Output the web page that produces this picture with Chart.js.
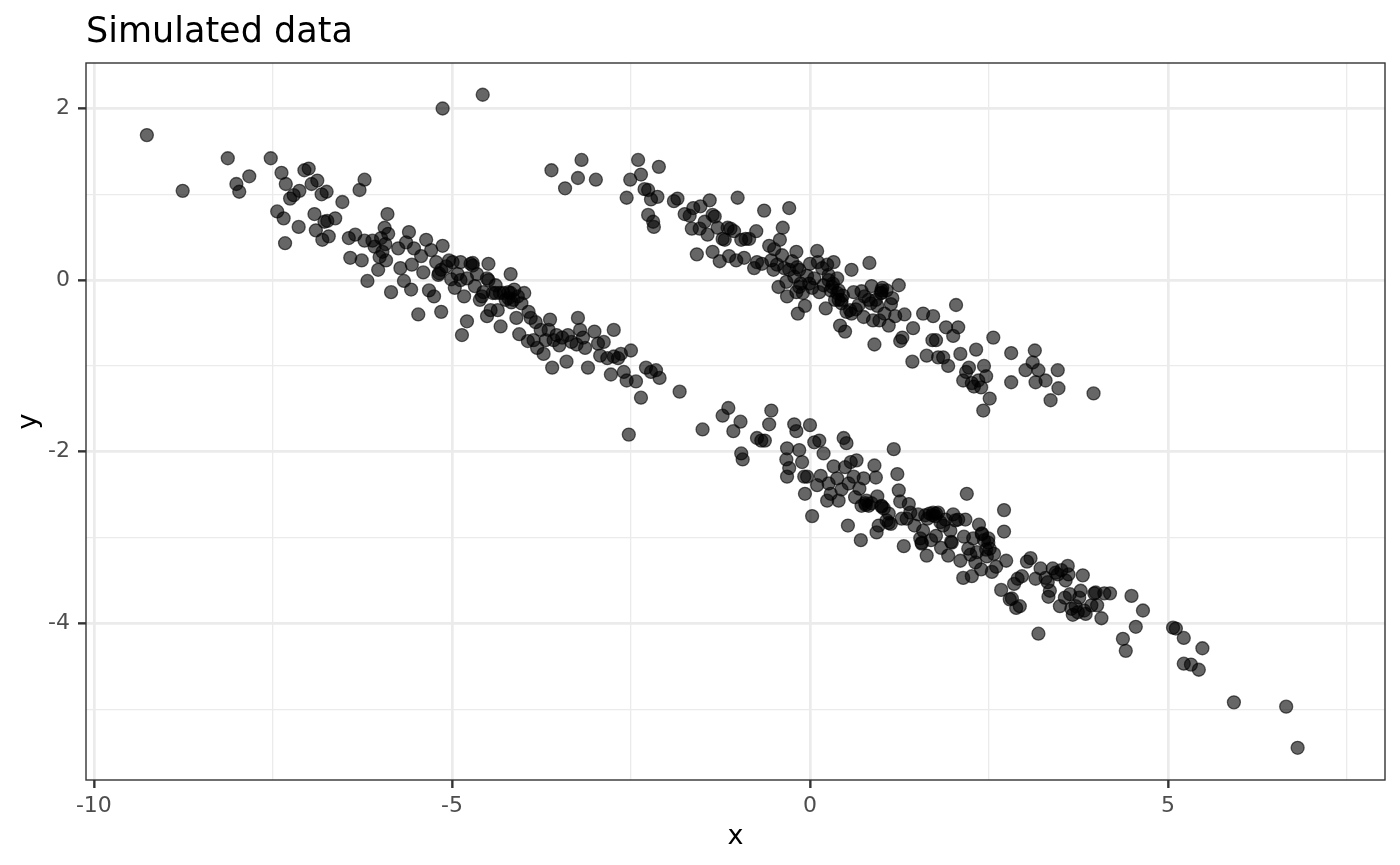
<!DOCTYPE html>
<html lang="en">
<head>
<meta charset="UTF-8">
<title>Simulated data</title>
<script src="https://cdn.jsdelivr.net/npm/chart.js@4"></script>
<style>
  html, body { margin: 0; padding: 0; background: #fff; }
  #wrap { width: 1400px; height: 865px; }
</style>
</head>
<body>
<div id="wrap"><canvas id="simChart"></canvas></div>
<script>
// tick positions: majors carry labels, minors are only grid lines
const xMajor = [-10, -5, 0, 5];
const xMinor = [-7.5, -2.5, 2.5, 7.5];
const yMajor = [2, 0, -2, -4];
const yMinor = [1, -1, -3, -5];

// points, grouped by the three bands
const upperLeft = [
  [-9.26,1.69],[-8.76,1.04],[-8.13,1.42],[-8.01,1.12],[-7.97,1.03],[-7.83,1.21],[-7.53,1.42],[-7.44,0.80],
  [-7.38,1.25],[-7.35,0.72],[-7.33,0.43],[-7.32,1.12],[-7.26,0.95],[-7.21,0.99],[-7.14,0.62],[-7.13,1.04],
  [-7.06,1.28],[-7.00,1.30],[-6.96,1.12],[-6.92,0.77],[-6.90,0.58],[-6.88,1.16],[-6.82,1.00],[-6.81,0.47],
  [-6.78,0.68],[-6.75,1.03],[-6.74,0.69],[-6.72,0.51],[-6.63,0.72],[-6.53,0.91],[-6.44,0.49],[-6.42,0.26],
  [-6.35,0.53],[-6.29,1.05],[-6.26,0.23],[-6.22,1.17],[-6.22,0.46],[-6.18,-0.01],[-6.11,0.46],[-6.08,0.39],
  [-6.03,0.12],[-6.01,0.27],[-5.99,0.49],[-5.97,0.33],[-5.94,0.61],[-5.92,0.23],[-5.90,0.77],[-5.85,-0.14],
  [-5.93,0.42],[-5.89,0.54],[-5.75,0.37],[-5.72,0.14],[-5.67,-0.01],[-5.64,0.44],[-5.60,0.56],[-5.57,-0.11],
  [-5.56,0.18],[-5.53,0.37],[-5.47,-0.40],[-5.43,0.28],[-5.40,0.09],[-5.36,0.47],[-5.32,-0.12],[-5.29,0.35],
  [-5.25,-0.19],[-5.22,0.21],[-5.19,0.06],[-5.15,-0.37],[-5.13,0.40],[-5.15,0.12],[-5.08,0.16],[-5.04,0.23],
  [-5.01,0.01],[-4.99,0.21],[-4.96,-0.09],[-4.92,0.07],[-4.88,0.21],[-4.86,-0.64],[-4.83,-0.19],[-4.79,-0.48],
  [-4.79,0.02],[-4.74,0.19],[-4.71,0.20],[-4.68,-0.07],[-4.65,0.07],[-4.61,-0.23],[-4.58,-0.19],[-4.51,0.02],
  [-4.49,0.00],[-4.49,0.19],[-4.51,-0.42],[-4.46,-0.35],[-4.43,-0.15],[-4.39,-0.06],[-4.36,-0.35],[-4.33,-0.15],
  [-4.32,-0.54],[-4.28,-0.15],[-4.25,-0.23],[-4.21,-0.14],[-4.18,0.07],[-4.17,-0.26],[-4.14,-0.23],[-4.13,-0.11],
  [-4.10,-0.44],[-4.08,-0.19],[-4.06,-0.63],[-4.03,-0.27],[-3.99,-0.15],[-3.94,-0.71],[-3.93,-0.37],[-3.90,-0.44],
  [-3.86,-0.70],[-3.83,-0.49],[-3.81,-0.79],[-3.76,-0.58],[-3.72,-0.86],[-3.69,-0.70],[-3.65,-0.58],[-3.63,-0.46],
  [-3.60,-1.02],[-3.58,-0.70],[-3.54,-0.64],[-3.50,-0.76],[-3.46,-0.67],[-3.40,-0.95],[-3.38,-0.64],[-3.33,-0.72],
  [-3.26,-0.75],[-3.24,-0.44],[-3.21,-0.58],[-3.17,-0.67],[-3.14,-0.79],[-3.10,-1.02],[-3.01,-0.60],[-2.96,-0.74],
  [-2.93,-0.88],[-2.88,-0.72],[-2.83,-0.91],[-2.78,-1.10],[-2.74,-0.58],[-2.74,-0.89],[-2.68,-0.91],[-2.64,-0.86],
  [-2.60,-1.07],[-2.56,-1.17],[-2.53,-1.80],[-2.50,-0.82],[-2.43,-1.18],[-2.36,-1.37],[-2.29,-1.02],[-2.22,-1.07],
  [-2.15,-1.05],[-2.10,-1.14],[-1.82,-1.30],
  [-4.56,-0.14],[-4.39,-0.15],[-4.18,-0.15],[-4.21,-0.21],[-5.18,0.08],[-4.88,0.00],[-4.71,0.17]
];

const outliers = [[-5.13,2.00],[-4.57,2.16]];

const upperRight = [
  [-3.61,1.28],[-3.42,1.07],[-3.24,1.19],[-3.19,1.40],[-2.99,1.17],[-2.56,0.96],[-2.51,1.17],[-2.40,1.40],
  [-2.36,1.23],[-2.31,1.06],[-2.26,1.05],[-2.26,0.76],[-2.22,0.94],[-2.19,0.68],[-2.18,0.62],[-2.11,1.32],
  [-2.13,0.97],[-1.90,0.92],[-1.85,0.95],[-1.75,0.77],[-1.68,0.75],[-1.65,0.60],[-1.63,0.84],[-1.58,0.30],
  [-1.54,0.60],[-1.53,0.86],[-1.47,0.68],[-1.43,0.53],[-1.40,0.93],[-1.36,0.76],[-1.36,0.33],[-1.33,0.74],
  [-1.29,0.61],[-1.26,0.22],[-1.22,0.48],[-1.19,0.47],[-1.15,0.61],[-1.13,0.28],[-1.11,0.60],[-1.06,0.57],
  [-1.03,0.23],[-1.01,0.96],[-0.96,0.47],[-0.92,0.26],[-0.90,0.48],[-0.85,0.48],[-0.78,0.14],[-0.75,0.57],
  [-0.74,0.21],[-0.67,0.19],[-0.64,0.81],[-0.57,0.40],[-0.54,0.23],[-0.51,0.12],[-0.50,0.36],[-0.46,0.18],
  [-0.44,-0.08],[-0.42,0.47],[-0.39,0.29],[-0.38,0.61],[-0.36,0.14],[-0.33,-0.02],[-0.32,-0.19],[-0.29,0.84],
  [-0.29,0.12],[-0.25,0.22],[-0.22,0.04],[-0.19,0.33],[-0.19,-0.14],[-0.17,-0.39],[-0.15,0.12],[-0.13,-0.04],
  [-0.10,-0.15],[-0.07,-0.30],[-0.04,0.05],[0.00,0.19],[0.03,-0.09],[0.06,0.02],[0.10,0.34],[0.11,0.21],
  [0.13,-0.14],[0.17,0.14],[0.19,-0.06],[0.22,-0.33],[0.24,0.18],[0.26,0.06],[0.29,-0.12],[0.32,-0.04],
  [0.33,0.21],[0.35,-0.23],[0.38,0.02],[0.40,-0.12],[0.42,-0.53],[0.44,-0.23],[0.46,-0.18],[0.49,-0.60],
  [0.51,-0.37],[0.56,-0.35],[0.58,0.12],[0.61,-0.14],[0.64,-0.34],[0.68,-0.29],[0.72,-0.13],[0.75,-0.43],
  [0.76,-0.19],[0.82,-0.23],[0.83,0.20],[0.86,-0.07],[0.88,-0.47],[0.90,-0.75],[0.92,-0.23],[0.94,-0.30],
  [0.97,-0.47],[0.99,-0.15],[1.00,-0.12],[1.01,-0.09],[1.04,-0.39],[1.07,-0.12],[1.10,-0.53],[1.13,-0.28],
  [1.15,-0.21],[1.19,-0.42],[1.24,-0.06],[1.26,-0.71],[1.29,-0.67],[1.32,-0.40],[1.44,-0.56],[1.43,-0.95],
  [1.58,-0.39],[1.63,-0.88],[1.71,-0.70],[1.76,-0.70],[1.72,-0.42],[1.79,-0.90],[1.86,-0.90],[1.90,-0.55],
  [1.93,-1.00],[2.00,-0.65],[2.04,-0.29],[2.07,-0.55],[2.10,-0.86],[2.14,-1.17],[2.18,-1.07],[2.22,-1.02],
  [2.26,-1.20],[2.29,-1.24],[2.32,-0.81],[2.35,-1.17],[2.39,-1.25],[2.42,-1.52],[2.43,-1.00],[2.46,-1.12],
  [2.51,-1.38],[2.56,-0.67],[2.81,-1.19],[2.81,-0.85],[3.01,-1.05],[3.11,-0.96],[3.14,-0.82],[3.15,-1.19],
  [3.19,-1.05],[3.29,-1.17],[3.36,-1.40],[3.46,-1.05],[3.47,-1.26],[3.96,-1.32],
  [-0.18,0.15],[-0.15,-0.08],[-0.01,-0.04],[0.26,0.00],[0.31,-0.08],[0.38,-0.15],[0.40,-0.23],[0.44,-0.27],
  [0.58,-0.39],[1.00,-0.15],[0.85,-0.27]
];

const lowerRight = [
  [-1.50,-1.74],[-1.22,-1.58],[-1.14,-1.49],[-1.07,-1.76],[-0.97,-1.65],[-0.96,-2.02],[-0.94,-2.09],[-0.74,-1.84],
  [-0.68,-1.87],[-0.63,-1.87],[-0.57,-1.68],[-0.54,-1.52],[-0.33,-2.09],[-0.32,-1.96],[-0.32,-2.29],[-0.29,-2.19],
  [-0.22,-1.68],[-0.19,-1.76],[-0.15,-1.98],[-0.11,-2.12],[-0.08,-2.29],[-0.07,-2.49],[-0.04,-2.29],[0.00,-1.69],
  [0.03,-2.75],[0.06,-1.89],[0.10,-2.39],[0.13,-1.87],[0.15,-2.28],[0.19,-2.02],[0.24,-2.57],[0.26,-2.37],
  [0.29,-2.49],[0.33,-2.17],[0.38,-2.31],[0.40,-2.57],[0.44,-2.44],[0.47,-1.84],[0.49,-2.18],[0.51,-1.90],
  [0.53,-2.86],[0.54,-2.37],[0.57,-2.12],[0.61,-2.29],[0.63,-2.53],[0.65,-2.10],[0.69,-2.43],[0.71,-3.03],
  [0.72,-2.63],[0.75,-2.31],[0.79,-2.57],[0.82,-2.63],[0.86,-2.60],[0.90,-2.16],[0.92,-2.30],[0.93,-2.94],
  [0.94,-2.52],[0.96,-2.86],[1.00,-2.63],[1.03,-2.66],[1.07,-2.80],[1.10,-2.72],[1.13,-2.84],[1.17,-1.97],
  [1.22,-2.26],[1.24,-2.45],[1.26,-2.58],[1.28,-2.78],[1.31,-3.10],[1.35,-2.78],[1.38,-2.61],[1.40,-2.71],
  [1.46,-2.86],[1.51,-2.73],[1.54,-3.01],[1.56,-3.07],[1.58,-2.92],[1.61,-2.74],[1.63,-3.21],[1.64,-2.78],
  [1.67,-2.72],[1.69,-3.03],[1.72,-2.71],[1.75,-2.75],[1.76,-2.98],[1.79,-2.71],[1.82,-2.82],[1.83,-3.12],
  [1.86,-2.86],[1.89,-2.79],[1.93,-3.21],[1.96,-2.92],[1.97,-3.05],[2.00,-2.73],[2.03,-2.80],[2.07,-2.79],
  [2.10,-3.27],[2.14,-3.47],[2.15,-2.99],[2.17,-2.79],[2.19,-2.49],[2.21,-3.13],[2.24,-3.20],[2.26,-3.45],
  [2.28,-3.01],[2.31,-3.29],[2.33,-3.17],[2.36,-2.85],[2.39,-3.37],[2.40,-2.96],[2.43,-3.03],[2.46,-3.14],
  [2.47,-3.22],[2.49,-3.01],[2.51,-3.13],[2.54,-3.40],[2.57,-3.19],[2.60,-3.34],[2.67,-3.61],[2.71,-2.68],
  [2.71,-2.93],[2.74,-3.27],[2.79,-3.72],[2.82,-3.71],[2.85,-3.54],[2.88,-3.82],[2.90,-3.48],[2.93,-3.80],
  [2.96,-3.45],[3.03,-3.28],[3.08,-3.24],[3.15,-3.48],[3.19,-4.12],[3.22,-3.36],[3.29,-3.47],[3.32,-3.52],
  [3.33,-3.69],[3.35,-3.62],[3.39,-3.36],[3.43,-3.41],[3.46,-3.43],[3.49,-3.80],[3.51,-3.38],[3.56,-3.70],
  [3.57,-3.50],[3.60,-3.33],[3.61,-3.43],[3.63,-3.66],[3.65,-3.83],[3.67,-3.90],[3.71,-3.80],[3.74,-3.87],
  [3.76,-3.70],[3.78,-3.62],[3.81,-3.44],[3.83,-3.85],[3.85,-3.89],[3.93,-3.79],[3.97,-3.65],[3.99,-3.64],
  [4.01,-3.79],[4.07,-3.94],[4.11,-3.65],[4.19,-3.65],[4.37,-4.18],[4.41,-4.32],[4.49,-3.68],[4.55,-4.04],
  [4.65,-3.85],[5.07,-4.05],[5.11,-4.06],[5.22,-4.17],[5.22,-4.47],[5.32,-4.48],[5.43,-4.54],[5.48,-4.29],
  [5.92,-4.92],[6.65,-4.97],[6.81,-5.45],
  [1.71,-2.74],[1.76,-2.72],[0.78,-2.62],[0.77,-2.60],[1.00,-2.64],[1.10,-2.83],[1.98,-3.06],[1.56,-3.06],
  [2.40,-2.95],[2.49,-3.06]
];

const allPoints = [].concat(upperLeft, outliers, upperRight, lowerRight)
  .map(p => ({ x: p[0], y: p[1] }));

const isMajor = (list, v) => list.some(m => Math.abs(m - v) < 1e-9);
const FONT = 'DejaVu Sans';

// ggplot-style panel outline, drawn over the points
const panelBorder = {
  id: 'panelBorder',
  afterDatasetsDraw(chart) {
    const { ctx, chartArea: a } = chart;
    ctx.save();
    ctx.strokeStyle = '#333333';
    ctx.lineWidth = 1.4;
    ctx.strokeRect(a.left, a.top, a.right - a.left, a.bottom - a.top);
    ctx.restore();
  }
};

function gridFor(majors) {
  return {
    color: '#ebebeb',
    lineWidth: c => isMajor(majors, c.tick.value) ? 2.7 : 1.3,
    tickLength: 8,
    tickWidth: 2.4,
    tickColor: c => isMajor(majors, c.tick.value) ? '#333333' : 'rgba(0,0,0,0)'
  };
}

new Chart(document.getElementById('simChart'), {
  type: 'scatter',
  data: {
    datasets: [{
      data: allPoints,
      pointRadius: 6.5,
      pointBorderWidth: 1.3,
      backgroundColor: 'rgba(0,0,0,0.6)',
      borderColor: 'rgba(0,0,0,0.6)'
    }]
  },
  plugins: [panelBorder],
  options: {
    responsive: true,
    maintainAspectRatio: false,
    animation: false,
    events: [],
    layout: { padding: { left: 0, right: 15, top: 0, bottom: 0 } },
    plugins: {
      legend: { display: false },
      tooltip: { enabled: false },
      title: {
        display: true,
        text: 'Simulated data',
        align: 'start',
        fullSize: false,
        color: '#000000',
        font: { family: FONT, size: 35, weight: 'normal' },
        padding: { top: 12, bottom: 9 }
      }
    },
    scales: {
      x: {
        type: 'linear',
        min: -10.11,
        max: 8.03,
        afterBuildTicks: s => { s.ticks = xMinor.concat(xMajor).sort((a, b) => a - b).map(v => ({ value: v })); },
        afterFit: s => { s.height = 85; },
        border: { display: false },
        grid: gridFor(xMajor),
        ticks: {
          autoSkip: false, maxRotation: 0, padding: 5, color: '#4d4d4d',
          font: { family: FONT, size: 22 },
          callback: v => isMajor(xMajor, v) ? String(v) : ''
        },
        title: {
          display: true, text: 'x', color: '#000000',
          font: { family: FONT, size: 27 },
          padding: { top: 0, bottom: 12 }
        }
      },
      y: {
        type: 'linear',
        min: -5.825,
        max: 2.53,
        afterBuildTicks: s => { s.ticks = yMinor.concat(yMajor).sort((a, b) => a - b).map(v => ({ value: v })); },
        afterFit: s => { s.width = 86; },
        border: { display: false },
        grid: gridFor(yMajor),
        ticks: {
          autoSkip: false, padding: 8, color: '#4d4d4d',
          font: { family: FONT, size: 22 },
          callback: v => isMajor(yMajor, v) ? String(v) : ''
        },
        title: {
          display: true, text: 'y', color: '#000000',
          font: { family: FONT, size: 27 },
          padding: { top: 13, bottom: 0 }
        }
      }
    }
  }
});
</script>
</body>
</html>
